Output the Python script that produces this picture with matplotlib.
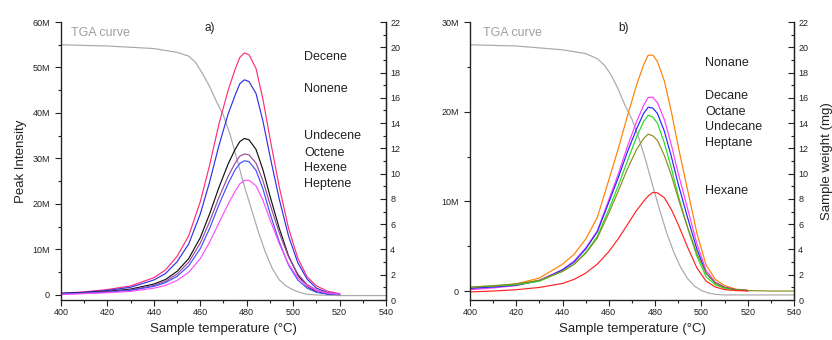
import matplotlib
matplotlib.use("Agg")
from matplotlib import pyplot as plt
from matplotlib.ticker import MultipleLocator, FuncFormatter

plt.rcParams['font.family'] = ['Liberation Sans', 'DejaVu Sans']

# temperature grid (deg C) for the peak intensity curves
temp = [400, 410, 420, 430, 440, 445, 450, 455, 460, 464, 468, 472, 475,
        477, 479, 481, 484, 487, 490, 494, 498, 502, 506, 510, 515, 520]

# panel a) alkenes, peak intensity in millions
decene = [0.3, 0.7, 1.2, 2.0, 3.8, 5.5, 8.5, 13.0, 20.5, 28.5, 37.5, 45.0, 49.6,
          52.2, 53.2, 52.8, 49.8, 43.0, 34.5, 23.8, 14.7, 8.1, 4.0, 2.0, 0.8, 0.3]
nonene = [0.3, 0.6, 1.0, 1.7, 3.3, 4.7, 7.3, 11.2, 17.8, 24.8, 32.8, 39.8, 43.9,
          46.4, 47.3, 46.9, 44.3, 38.2, 30.6, 21.1, 13.0, 7.1, 3.5, 1.5, 0.5, 0.2]
undecene = [0.4, 0.5, 0.8, 1.3, 2.4, 3.4, 5.2, 8.0, 12.6, 17.8, 23.6, 28.8, 32.0,
            33.7, 34.4, 34.1, 32.0, 27.5, 21.8, 14.7, 8.6, 4.4, 1.9, 0.7, 0.2, 0.1]
octene = [0.2, 0.4, 0.7, 1.1, 2.1, 3.0, 4.6, 7.2, 11.4, 16.1, 21.4, 26.1, 29.0,
          30.5, 31.0, 30.8, 29.0, 25.1, 20.0, 13.7, 8.4, 4.6, 2.3, 1.1, 0.4, 0.2]
hexene = [0.3, 0.4, 0.6, 1.0, 1.9, 2.7, 4.1, 6.4, 10.2, 14.6, 19.8, 24.5, 27.5,
          28.9, 29.5, 29.3, 27.4, 23.3, 18.0, 11.7, 6.6, 3.3, 1.5, 0.6, 0.2, 0.1]
heptene = [0.1, 0.3, 0.5, 0.8, 1.5, 2.1, 3.2, 5.0, 8.0, 11.6, 15.8, 20.0, 22.8,
           24.4, 25.2, 25.2, 24.0, 20.8, 16.6, 11.3, 6.8, 3.8, 2.0, 1.0, 0.4, 0.2]

# panel b) alkanes
nonane = [0.3, 0.5, 0.8, 1.45, 3.0, 4.1, 5.8, 8.2, 12.4, 15.8, 19.5, 23.0, 25.2,
          26.3, 26.3, 25.6, 23.4, 20.0, 16.1, 11.3, 6.5, 2.9, 1.3, 0.6, 0.2, 0.1]
decane = [0.15, 0.35, 0.6, 1.2, 2.4, 3.35, 4.8, 6.7, 10.2, 13.0, 16.1, 18.9, 20.7,
          21.6, 21.6, 21.0, 19.1, 16.3, 13.1, 9.2, 5.3, 2.3, 1.0, 0.45, 0.15, 0.05]
octane = [0.3, 0.45, 0.65, 1.15, 2.35, 3.25, 4.7, 6.6, 9.9, 12.6, 15.5, 18.1, 19.8,
          20.5, 20.4, 19.8, 17.8, 15.0, 11.9, 8.2, 4.7, 2.0, 0.9, 0.4, 0.15, 0.05]
undecane = [0.45, 0.55, 0.7, 1.1, 2.2, 3.0, 4.3, 6.1, 9.1, 11.7, 14.5, 17.2, 18.9,
            19.6, 19.4, 18.7, 16.5, 13.7, 10.6, 7.1, 3.9, 1.6, 0.7, 0.3, 0.1, 0.05]
heptane = [0.45, 0.6, 0.8, 1.2, 2.2, 3.0, 4.2, 5.9, 8.7, 11.1, 13.6, 15.8, 17.0,
           17.5, 17.3, 16.8, 15.1, 12.9, 10.3, 7.1, 4.2, 2.0, 0.9, 0.4, 0.15, 0.05]
hexane = [-0.1, 0.0, 0.15, 0.4, 0.85, 1.3, 2.0, 3.0, 4.4, 5.8, 7.4, 9.0, 10.0,
          10.6, 11.0, 10.95, 10.4, 9.1, 7.4, 4.9, 2.6, 1.1, 0.45, 0.15, 0.05, 0.0]
heptane_tail_temp = [520, 530, 540]
heptane_tail = [0.05, 0.0, 0.0]

# TGA curves, sample weight in mg
tga_temp = [400, 420, 440, 450, 455, 458, 461, 464, 467, 470, 473, 476, 479,
            482, 485, 488, 491, 494, 497, 500, 503, 506, 510, 520, 540]
tga_a = [20.2, 20.1, 19.9, 19.6, 19.3, 18.8, 17.9, 16.9, 15.7, 14.6, 13.0, 11.0, 9.0,
         7.2, 5.4, 3.8, 2.5, 1.6, 1.1, 0.8, 0.6, 0.45, 0.4, 0.35, 0.35]
tga_b = [20.2, 20.1, 19.8, 19.5, 19.1, 18.6, 17.8, 16.7, 15.4, 14.3, 12.8, 11.0, 9.0,
         7.1, 5.3, 3.8, 2.6, 1.7, 1.1, 0.75, 0.55, 0.45, 0.4, 0.4, 0.4]

series_a = [("Decene", decene, "#ff2d78"), ("Nonene", nonene, "#3030e6"),
            ("Undecene", undecene, "#111111"), ("Octene", octene, "#9a4a9a"),
            ("Hexene", hexene, "#4050ff"), ("Heptene", heptene, "#ff4dff")]
labels_a_y = [0.874, 0.759, 0.590, 0.530, 0.475, 0.417]

series_b = [("Nonane", nonane, "#ff8000"), ("Decane", decane, "#ff3cff"),
            ("Octane", octane, "#2424ff"), ("Undecane", undecane, "#22dd22"),
            ("Heptane", heptane, "#8c8c20"), ("Hexane", hexane, "#ff2222")]
labels_b_y = [0.851, 0.735, 0.677, 0.621, 0.564, 0.393]

W, H = 832, 340
fig = plt.figure(figsize=(W / 100, H / 100), dpi=100)

def mfmt(v, pos):
    return "0" if abs(v) < 1e-9 else "%dM" % round(v)

def make_panel(x0, x1, ymax, ybot, series, lab_x, lab_y, tga, tag, tag_x, tga_x):
    ax = fig.add_axes([x0 / W, (H - 300) / H, (x1 - x0) / W, 278 / H])
    ax.set_xlim(400, 540)
    ax.set_ylim(ybot, ymax)
    ax.spines['top'].set_visible(False)
    for s in ax.spines.values():
        s.set_linewidth(0.9)
        s.set_color("#222222")
    ax.xaxis.set_major_locator(MultipleLocator(20))
    ax.xaxis.set_minor_locator(MultipleLocator(10))
    ax.yaxis.set_major_locator(MultipleLocator(10))
    ax.yaxis.set_minor_locator(MultipleLocator(5))
    ax.yaxis.set_major_formatter(FuncFormatter(mfmt))
    ax.tick_params(which='both', direction='out', labelsize=6.5, colors="#222222",
                   width=0.8, top=False, right=False)
    ax.tick_params(which='major', length=4, pad=2)
    ax.tick_params(which='minor', length=2.5)
    ax.tick_params(axis='y', which='major', pad=4)
    ax.set_xlabel("Sample temperature (°C)", fontsize=9.5, labelpad=4, color="#222222")

    ax2 = ax.twinx()
    ax2.set_ylim(0, 22)
    ax2.spines['top'].set_visible(False)
    ax2.spines['right'].set_linewidth(0.9)
    ax2.yaxis.set_major_locator(MultipleLocator(2))
    ax2.yaxis.set_minor_locator(MultipleLocator(1))
    ax2.tick_params(which='both', direction='in', labelsize=6.5, colors="#222222",
                    width=0.8)
    ax2.tick_params(which='major', length=4, pad=3)
    ax2.tick_params(which='minor', length=2.5)
    ax2.plot(tga_temp, tga, color="#a8a8a8", lw=0.85)

    for (name, vals, col), ly in zip(series, lab_y):
        ax.plot(temp, vals, color=col, lw=0.85, solid_joinstyle='round')
        ax.text(lab_x, ly, name, transform=ax.transAxes, fontsize=9,
                color="#222222", va='center', ha='left')
    ax.set_zorder(ax2.get_zorder() + 1)
    ax.patch.set_visible(False)
    ax.text(tag_x, 0.978, tag, transform=ax.transAxes, fontsize=8.5,
            color="#222222", va='center', ha='left')
    ax.text(tga_x, 0.962, "TGA curve", transform=ax.transAxes, fontsize=9,
            color="#a0a0a0", va='center', ha='left')
    return ax, ax2

axa, axa2 = make_panel(61, 386, 60, -1.1, series_a, 0.748, labels_a_y, tga_a,
                       "a)", 0.443, 0.031)
axa.set_ylabel("Peak Intensity", fontsize=9.5, labelpad=4, color="#222222")

axb, axb2 = make_panel(470, 794, 30, -1.0, series_b, 0.725, labels_b_y, tga_b,
                       "b)", 0.457, 0.039)
axb.plot(heptane_tail_temp, heptane_tail, color="#8c8c20", lw=0.85)
axb2.set_ylabel("Sample weight (mg)", fontsize=9.5, labelpad=9, color="#222222")

fig.savefig("out.png", dpi=100)
